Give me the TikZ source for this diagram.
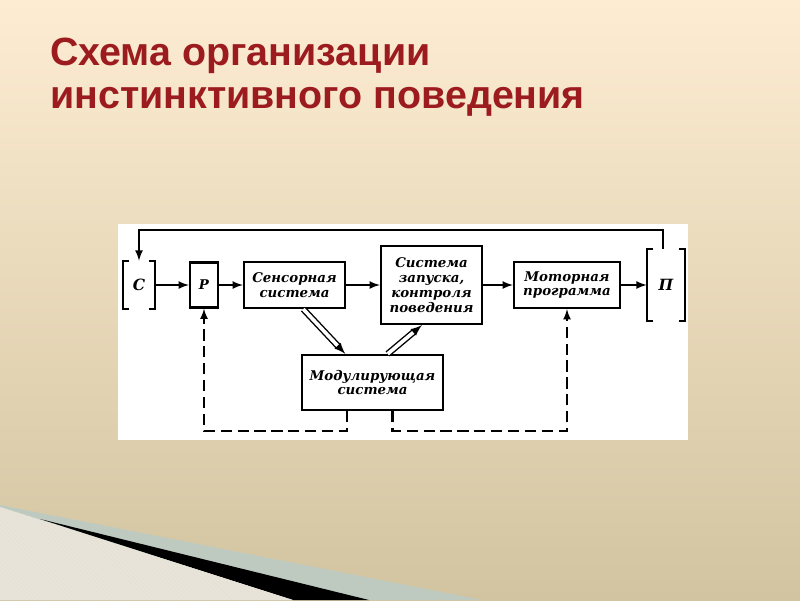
\documentclass[tikz,border=0pt]{standalone}
\usepackage{fontspec}
\setmainfont{Liberation Sans}
\newfontfamily\handfont{DejaVu Serif}
\usetikzlibrary{positioning,patterns}
\definecolor{slidetop}{RGB}{253,236,210}
\definecolor{slidemid}{RGB}{240,228,198}
\definecolor{slidebot}{RGB}{210,196,160}
\definecolor{titlered}{RGB}{155,27,30}
\definecolor{swooshgrey}{RGB}{190,202,192}
\definecolor{swooshlight}{RGB}{234,228,214}
\begin{document}
\begin{tikzpicture}[x=0.025cm,y=-0.025cm,
    block/.style={draw,line width=1.6pt,align=center,inner sep=1pt,
      font=\handfont\bfseries\itshape\fontsize{9.5}{10.5}\selectfont},
    bracket/.style={align=center,inner sep=0pt,
      font=\handfont\bfseries\itshape\fontsize{11}{11}\selectfont},
    heading/.style={anchor=base west,inner sep=0pt,text=titlered,
      font=\bfseries\fontsize{28}{30}\selectfont},
    link/.style={line width=1.5pt,-latex},
    dlink/.style={double,double distance=2.6pt,line width=1pt,-latex},
    back/.style={line width=1.5pt,dash pattern=on 8pt off 4pt,-latex}]
  % slide
  \fill[top color=slidetop,middle color=slidemid,bottom color=slidebot] (0,0) rectangle (800,600);
  \fill[swooshgrey] (0,505) -- (482,600) -- (0,600) -- cycle;
  \fill[black] (40,519) -- (369,600) -- (293,600) -- cycle;
  \fill[swooshlight] (0,507) -- (293,600) -- (0,600) -- cycle;
  \fill[pattern=north west lines,pattern color=black!12] (0,507) -- (293,600) -- (0,600) -- cycle;
  \node[heading] (title1) at (50,65) {Схема организации};
  \node[heading] (title2) at (50,108) {инстинктивного поведения};
  \fill[white] (118,224) rectangle (688,440);
  % blocks
  \node[bracket,minimum width=0.8cm,minimum height=1.2cm] (stim) at (139,285) {С};
  \node[block,minimum width=0.7cm,minimum height=1.125cm] (rec) at (204,285) {Р};
  \node[block,minimum width=2.525cm,minimum height=1.15cm] (sens) at (294.5,285) {Сенсорная\\система};
  \node[block,minimum width=2.525cm,minimum height=1.95cm] (launch) at (431.5,285) {Система\\запуска,\\контроля\\поведения};
  \node[block,minimum width=2.65cm,minimum height=1.15cm] (motor) at (567,285) {Моторная\\программа};
  \node[bracket,minimum width=0.95cm,minimum height=1.8cm] (act) at (666,285) {П};
  \node[block,minimum width=3.525cm,minimum height=1.375cm] (mod) at (372.5,382.5) {Модулирующая\\система};
  \foreach \b in {stim,act} {
    \draw[line width=1.6pt] ([xshift=0.15cm]\b.north west) -| (\b.south west) -- ++(0.15cm,0);
    \draw[line width=1.6pt] ([xshift=-0.15cm]\b.north east) -| (\b.south east) -- ++(-0.15cm,0);
  }
  % connections
  \draw[link] (stim) -- (rec);
  \draw[link] (rec) -- (sens);
  \draw[link] (sens) -- (launch);
  \draw[link] (launch) -- (motor);
  \draw[link] (motor) -- (act);
  \draw[link] ([xshift=-0.08cm]act.north) -- ++(0,0.47cm) -| (stim.north);
  \draw[dlink] ([xshift=0.22cm]sens.south) -- ([xshift=-0.68cm]mod.north);
  \draw[dlink] ([xshift=0.38cm]mod.north) -- ([xshift=-0.24cm]launch.south);
  \draw[back] ([xshift=-0.63cm]mod.south) -- ++(0,-0.49cm) -| (rec.south);
  \draw[back] ([xshift=0.5cm]mod.south) -- ++(0,-0.49cm) -| (motor.south);
\end{tikzpicture}
\end{document}
